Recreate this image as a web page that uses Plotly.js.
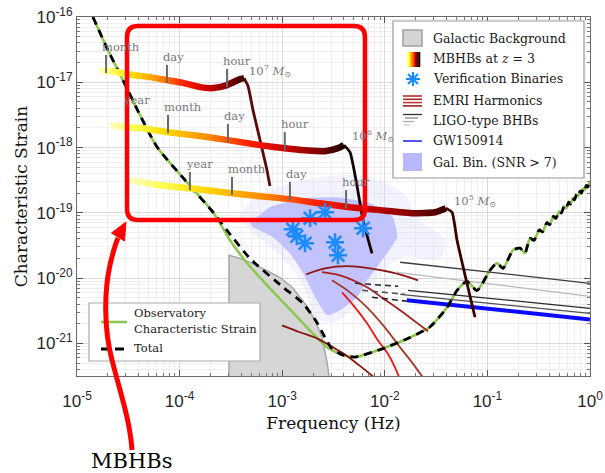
<!DOCTYPE html>
<html><head><meta charset="utf-8">
<script src="https://cdn.plot.ly/plotly-3.0.1.min.js"></script>
<style>body{margin:0;background:#fff}#chart{width:605px;height:473px}</style>
</head><body><div id="chart"></div>
<script>
// ---------------- DATA ----------------
const xTickVals = [1e-5, 1e-4, 1e-3, 1e-2, 1e-1, 1];
const xTickText = ['10<sup>-5</sup>', '10<sup>-4</sup>', '10<sup>-3</sup>', '10<sup>-2</sup>', '10<sup>-1</sup>', '10<sup>0</sup>'];
const yTickVals = [1e-21, 1e-20, 1e-19, 1e-18, 1e-17, 1e-16];
const yTickText = ['10<sup>-21</sup>', '10<sup>-20</sup>', '10<sup>-19</sup>', '10<sup>-18</sup>', '10<sup>-17</sup>', '10<sup>-16</sup>'];

// Observatory characteristic strain
const sensF = [1.43e-5, 2.0e-5, 2.87e-5, 4.11e-5, 6.03e-5, 1.13e-4, 2.12e-4, 3.10e-4, 4.54e-4, 5.68e-4, 1.19e-3, 2.74e-3, 3.92e-3, 5.13e-3, 9.59e-3, 1.76e-2, 2.75e-2, 4.04e-2, 5.06e-2, 6.32e-2, 7.92e-2, 0.106, 0.124, 0.142, 0.178, 0.208, 0.232, 0.26, 0.285, 0.32, 0.345, 0.38, 0.405, 0.44, 0.465, 0.50, 0.525, 0.56, 0.585, 0.62, 0.645, 0.68, 0.705, 0.74, 0.765, 0.80, 0.825, 0.86, 0.885, 0.92, 0.945, 1.0];
const sensH = [1e-16, 3.12e-17, 1e-17, 3.14e-18, 1.02e-18, 3.16e-19, 1.02e-19, 3.80e-20, 1.70e-20, 1.14e-20, 3.31e-21, 8.71e-22, 6.61e-22, 6.17e-22, 8.32e-22, 1.23e-21, 1.78e-21, 3.55e-21, 6.46e-21, 8.91e-21, 6.46e-21, 1.32e-20, 1.70e-20, 1.41e-20, 2.69e-20, 2.88e-20, 2.40e-20, 4.07e-20, 3.80e-20, 5.50e-20, 5.10e-20, 7.08e-20, 6.60e-20, 8.81e-20, 8.20e-20, 1.06e-19, 9.9e-20, 1.26e-19, 1.17e-19, 1.46e-19, 1.36e-19, 1.68e-19, 1.57e-19, 1.91e-19, 1.79e-19, 2.14e-19, 2.0e-19, 2.37e-19, 2.22e-19, 2.63e-19, 2.47e-19, 2.95e-19];

// Total (instrument + galactic confusion): differs from the observatory curve in the mid band
const totalMidF = [2.90e-4, 4.85e-4, 1.02e-3, 1.60e-3, 2.18e-3, 2.61e-3, 3.05e-3];
const totalMidH = [5.37e-20, 2.0e-20, 7.24e-21, 4.07e-21, 2.09e-21, 1.23e-21, 8.32e-22];

// Galactic background (filled region)
const galF = [3.03e-4, 3.03e-4, 3.88e-4, 4.85e-4, 6.79e-4, 9.53e-4, 1.25e-3, 1.49e-3, 1.78e-3, 2.0e-3, 2.23e-3, 2.44e-3, 2.61e-3, 2.74e-3, 2.86e-3];
const galH = [3.16e-22, 2.24e-20, 2.0e-20, 1.74e-20, 1.35e-20, 1.02e-20, 7.24e-21, 5.13e-21, 3.55e-21, 2.51e-21, 1.78e-21, 1.23e-21, 7.76e-22, 5.13e-22, 3.16e-22];

// Galactic binaries with SNR > 7 (region outlines)
const cloudOuterF = [3.71e-4, 5.43e-4, 1.19e-3, 3.42e-3, 8.02e-3, 1.57e-2, 2.20e-2, 3.86e-2, 3.45e-2, 1.41e-2, 8.97e-3, 5.73e-3, 3.27e-3, 2.23e-3, 1.49e-3, 9.53e-4, 5.43e-4];
const cloudOuterH = [8.26e-20, 1.73e-19, 2.84e-19, 3.77e-19, 3.40e-19, 1.86e-19, 7.71e-20, 3.80e-20, 2.01e-20, 2.01e-20, 1.10e-20, 4.57e-21, 2.10e-21, 2.42e-21, 9.25e-21, 2.24e-20, 4.53e-20];
const cloudCoreF = [4.85e-4, 7.60e-4, 1.60e-3, 3.42e-3, 7.18e-3, 1.20e-2, 1.32e-2, 1.05e-2, 8.39e-3, 6.71e-3, 5.36e-3, 3.66e-3, 2.74e-3, 2.18e-3, 1.60e-3, 1.19e-3, 8.13e-4, 5.19e-4];
const cloudCoreH = [6.92e-20, 1.22e-19, 1.67e-19, 1.73e-19, 1.40e-19, 8.57e-20, 4.23e-20, 2.40e-20, 1.47e-20, 9.25e-21, 5.08e-21, 3.21e-21, 2.69e-21, 4.57e-21, 1.19e-20, 2.40e-20, 4.23e-20, 6.01e-20];

// MBHBs at z = 3 : inspiral and merger/ringdown parts
const mbhb7InspF = [1.64e-5, 2.40e-5, 3.52e-5, 5.15e-5, 7.53e-5, 1.10e-4, 1.58e-4, 2.12e-4, 2.90e-4, 3.88e-4, 4.25e-4];
const mbhb7InspH = [1.54e-17, 1.44e-17, 1.29e-17, 1.20e-17, 1.08e-17, 9.72e-18, 8.43e-18, 8.15e-18, 9.06e-18, 1.12e-17, 1.16e-17];
const mbhb7MergF = [4.25e-4, 4.65e-4, 5.19e-4, 6.08e-4, 7.11e-4, 7.60e-4];
const mbhb7MergH = [1.16e-17, 8.71e-18, 3.75e-18, 1.30e-18, 4.50e-19, 2.57e-19];

const mbhb6InspF = [2.10e-5, 2.94e-5, 4.11e-5, 7.71e-5, 1.58e-4, 2.96e-4, 6.08e-4, 1.06e-3, 1.67e-3, 2.61e-3, 3.50e-3, 4.0e-3];
const mbhb6InspH = [2.21e-18, 2.06e-18, 1.99e-18, 1.72e-18, 1.50e-18, 1.30e-18, 1.09e-18, 9.79e-19, 9.12e-19, 8.81e-19, 9.79e-19, 1.09e-18];
const mbhb6MergF = [4.0e-3, 4.58e-3, 5.24e-3, 6.14e-3, 7.50e-3];
const mbhb6MergH = [1.09e-18, 8.49e-19, 3.16e-19, 7.71e-20, 2.40e-20];

const mbhb5InspF = [3.29e-5, 6.44e-5, 1.26e-4, 3.24e-4, 6.08e-4, 1.19e-3, 2.33e-3, 4.58e-3, 8.97e-3, 1.88e-2, 3.08e-2, 3.94e-2];
const mbhb5InspH = [3.16e-19, 2.65e-19, 2.38e-19, 2.0e-19, 1.80e-19, 1.62e-19, 1.40e-19, 1.22e-19, 1.10e-19, 9.86e-20, 1.02e-19, 1.18e-19];
const mbhb5MergF = [3.94e-2, 4.52e-2, 5.06e-2, 6.32e-2, 7.57e-2];
const mbhb5MergH = [1.18e-19, 1.02e-19, 3.80e-20, 8.32e-21, 2.51e-21];

// time-to-merger marks on the tracks (frequency, strain at the track)
const mbhb7TickF = [1.92e-5, 7.53e-5, 2.90e-4];
const mbhb7TickH = [1.38e-17, 9.72e-18, 8.43e-18];
const mbhb7TickLabels = ['month', 'day', 'hour'];
const mbhb6TickF = [3.07e-5, 7.71e-5, 2.96e-4, 1.06e-3];
const mbhb6TickH = [2.14e-18, 1.66e-18, 1.21e-18, 9.12e-19];
const mbhb6TickLabels = ['year', 'month', 'day', 'hour'];
const mbhb5TickF = [1.26e-4, 3.24e-4, 1.19e-3, 4.19e-3];
const mbhb5TickH = [2.22e-19, 1.86e-19, 1.56e-19, 1.17e-19];
const mbhb5TickLabels = ['year', 'month', 'day', 'hour'];

const massLabels = ['10<sup>7</sup> <i>M</i><sub>⊙</sub>', '10<sup>6</sup> <i>M</i><sub>⊙</sub>', '10<sup>5</sup> <i>M</i><sub>⊙</sub>'];
const massLabelF = [4.54e-4, 4.58e-3, 4.52e-2];
const massLabelH = [1.49e-17, 1.50e-18, 1.51e-19];

// Verification binaries
const vbF = [1.87e-3, 2.61e-3, 1.27e-3, 1.39e-3, 1.67e-3, 3.27e-3, 3.50e-3, 6.14e-3];
const vbH = [8.26e-20, 1.02e-19, 5.60e-20, 4.38e-20, 3.42e-20, 3.54e-20, 2.24e-20, 5.81e-20];

// EMRI harmonics
const emri1F = [1.71e-3, 2.61e-3, 4.29e-3, 7.18e-3, 1.26e-2, 2.11e-2];
const emri1H = [1.14e-20, 1.41e-20, 1.52e-20, 1.41e-20, 1.19e-20, 9.25e-21];
const emri2F = [2.44e-3, 3.66e-3, 6.71e-3, 9.59e-3, 1.41e-2, 1.97e-2, 2.64e-2];
const emri2H = [1.23e-20, 1.10e-20, 7.23e-21, 4.90e-21, 3.21e-21, 2.17e-21, 1.53e-21];
const emri3F = [3.05e-3, 4.58e-3, 6.71e-3, 1.0e-2, 1.41e-2, 1.84e-2, 2.31e-2];
const emri3H = [9.25e-21, 6.05e-21, 3.56e-21, 1.76e-21, 8.69e-22, 5.12e-22, 3.12e-22];
const emri4F = [3.83e-3, 5.13e-3, 6.71e-3, 8.59e-3, 1.05e-2, 1.23e-2, 1.37e-2];
const emri4H = [6.05e-21, 3.56e-21, 2.03e-21, 1.11e-21, 7.28e-22, 4.60e-22, 3.12e-22];
const emri5F = [9.95e-4, 1.49e-3, 2.18e-3, 3.13e-3, 3.92e-3, 5.48e-3, 7.67e-3];
const emri5H = [1.89e-21, 1.48e-21, 1.19e-21, 8.69e-22, 7.03e-22, 4.76e-22, 3.12e-22];

// LIGO-type BHBs
const ligo1F = [1.41e-2, 1.0]; const ligo1H = [1.75e-20, 8.32e-21];
const ligo2F = [1.26e-2, 1.0]; const ligo2H = [1.23e-20, 5.26e-21];
const ligo3F = [1.68e-2, 1.0]; const ligo3H = [6.50e-21, 3.44e-21];
const ligo4F = [1.41e-2, 1.0]; const ligo4H = [5.65e-21, 2.88e-21];
const ligoDashAF = [5.13e-3, 1.35e-2]; const ligoDashAH = [8.32e-21, 7.48e-21];
const ligoDashBF = [6.0e-3, 1.57e-2]; const ligoDashBH = [6.50e-21, 5.65e-21];
const ligoDashCF = [7.50e-3, 1.68e-2]; const ligoDashCH = [5.08e-21, 4.41e-21];

// GW150914
const gwF = [1.64e-2, 1.0];
const gwH = [4.57e-21, 2.33e-21];

// ---------------- BUILD ----------------
const SERIF = 'DejaVu Serif';
const SANS = 'Liberation Sans';
const traces = [];
const gradTargets = [];

function line(x, y, color, width, extra) {
  return Object.assign({x: x, y: y, type: 'scatter', mode: 'lines', hoverinfo: 'skip',
    line: {color: color, width: width}, showlegend: false}, extra || {});
}

// cloud of resolved galactic binaries
traces.push(line(cloudOuterF, cloudOuterH, 'rgba(0,0,0,0)', 0, {fill: 'toself', fillcolor: 'rgba(212,212,255,0.28)', line: {width: 0, shape: 'spline'}}));
traces.push(line(cloudCoreF, cloudCoreH, 'rgba(0,0,0,0)', 0, {fill: 'toself', fillcolor: 'rgb(194,194,252)', line: {width: 0, shape: 'spline', smoothing: 0.4}}));
// galactic background
traces.push(line(galF, galH, '#a8a8a8', 1.5, {fill: 'toself', fillcolor: '#d6d6d6'}));
// observatory strain
traces.push(line(sensF, sensH, '#8dc74f', 2.6, {line: {color: '#8dc74f', width: 2.6, shape: 'spline', smoothing: 0.6}}));
// EMRIs
traces.push(line(emri1F, emri1H, '#8e1414', 1.8, {line: {color: '#8e1414', width: 1.8, shape: 'spline'}}));
traces.push(line(emri2F, emri2H, '#a82020', 1.8, {line: {color: '#a82020', width: 1.8, shape: 'spline'}}));
traces.push(line(emri3F, emri3H, '#a33a2a', 1.8, {line: {color: '#a33a2a', width: 1.8, shape: 'spline'}}));
traces.push(line(emri4F, emri4H, '#f01414', 1.8, {line: {color: '#f01414', width: 1.8, shape: 'spline'}}));
traces.push(line(emri5F, emri5H, '#8a1010', 1.8, {line: {color: '#8a1010', width: 1.8, shape: 'spline'}}));
// LIGO-type
traces.push(line(ligo1F, ligo1H, '#3a3a3a', 1.3));
traces.push(line(ligo2F, ligo2H, '#b8b8b8', 1.3));
traces.push(line(ligo3F, ligo3H, '#2a2a2a', 1.3));
traces.push(line(ligo4F, ligo4H, '#505050', 1.3));
traces.push(line(ligoDashAF, ligoDashAH, '#333', 1.6, {line: {color: '#333', width: 1.6, dash: '6px,4px'}}));
traces.push(line(ligoDashBF, ligoDashBH, '#555', 1.6, {line: {color: '#555', width: 1.6, dash: '6px,4px'}}));
traces.push(line(ligoDashCF, ligoDashCH, '#222', 1.6, {line: {color: '#222', width: 1.6, dash: '6px,4px'}}));
// GW150914
traces.push(line(gwF, gwH, '#0a0aff', 4));
// Total (dashed)
const totalF = sensF.slice(0, 7).concat(totalMidF, sensF.slice(12));
const totalH = sensH.slice(0, 7).concat(totalMidH, sensH.slice(12));
traces.push(line(totalF, totalH, '#000', 2.8, {line: {color: '#000', width: 2.8, dash: '8px,6px', shape: 'spline', smoothing: 0.6}}));
// MBHB tracks
const tracks = [
  {iF: mbhb7InspF, iH: mbhb7InspH, mF: mbhb7MergF, mH: mbhb7MergH, end: '#3c0000', merg: '#5a0808', id: 'g7'},
  {iF: mbhb6InspF, iH: mbhb6InspH, mF: mbhb6MergF, mH: mbhb6MergH, end: '#1a0000', merg: '#140000', id: 'g6'},
  {iF: mbhb5InspF, iH: mbhb5InspH, mF: mbhb5MergF, mH: mbhb5MergH, end: '#3a0000', merg: '#3c0000', id: 'g5'}
];
tracks.forEach(t => {
  traces.push(line(t.mF, t.mH, t.merg, 2.8, {line: {color: t.merg, width: 2.8, shape: 'spline', smoothing: 0.5}}));
  gradTargets.push({idx: traces.length, id: t.id, end: t.end});
  traces.push(line(t.iF, t.iH, '#c00', 6.5, {line: {color: '#c00', width: 6.5, shape: 'spline', smoothing: 0.5}}));
});
// time marks on the tracks
const tickSets = [[mbhb7TickF, mbhb7TickH, mbhb7TickLabels], [mbhb6TickF, mbhb6TickH, mbhb6TickLabels], [mbhb5TickF, mbhb5TickH, mbhb5TickLabels]];
const TICKUP = 1.905; // drawn mark length (0.28 decade)
const annotations = [];
tickSets.forEach(s => {
  s[0].forEach((f, i) => {
    traces.push(line([f, f], [s[1][i], s[1][i] * TICKUP], '#6a6a6a', 2));
    annotations.push({x: Math.log10(f), y: Math.log10(s[1][i] * TICKUP), xref: 'x', yref: 'y', text: s[2][i],
      showarrow: false, xanchor: 'left', yanchor: 'bottom', xshift: -6, yshift: -1,
      font: {family: SERIF, size: 11.5, color: '#7a7a7a'}});
  });
});
massLabels.forEach((t, i) => {
  annotations.push({x: Math.log10(massLabelF[i]), y: Math.log10(massLabelH[i]), xref: 'x', yref: 'y', text: t,
    showarrow: false, xanchor: 'left', yanchor: 'middle', font: {family: SERIF, size: 11.5, color: '#7a7a7a'}});
});
// verification binaries
traces.push({x: vbF, y: vbH, type: 'scatter', mode: 'markers', hoverinfo: 'skip', showlegend: false,
  marker: {symbol: 'asterisk-open', size: 15, color: '#1e8cff', line: {width: 2.6, color: '#1e8cff'}}});

// ---------------- decorations in pixel space -> paper ----------------
const PL = 77, PT = 17, PW = 513, PH = 359;
const X = p => ((p - PL) / PW).toFixed(5);
const Y = p => ((PT + PH - p) / PH).toFixed(5);
const shapes = [];
function prect(x0, y0, x1, y1, fill, lc, lw) {
  shapes.push({type: 'rect', xref: 'paper', yref: 'paper', x0: +X(x0), x1: +X(x1), y0: +Y(y1), y1: +Y(y0),
    fillcolor: fill, line: {color: lc || 'rgba(0,0,0,0)', width: lw || 0}, layer: 'above'});
}
function pline(x0, y0, x1, y1, color, w, dash) {
  shapes.push({type: 'line', xref: 'paper', yref: 'paper', x0: +X(x0), x1: +X(x1), y0: +Y(y0), y1: +Y(y1),
    line: {color: color, width: w, dash: dash || 'solid'}, layer: 'above'});
}
function ppath(d, color, w, fill) {
  shapes.push({type: 'path', xref: 'paper', yref: 'paper', path: d, line: {color: color, width: w},
    fillcolor: fill || 'rgba(0,0,0,0)', layer: 'above'});
}
function legText(x, y, t, size) {
  annotations.push({xref: 'paper', yref: 'paper', x: +X(x), y: +Y(y), text: t, showarrow: false,
    xanchor: 'left', yanchor: 'middle', font: {family: SERIF, size: size, color: '#1a1a1a'}});
}
// top-right legend
prect(393, 21, 584, 178, '#ffffff', '#9a9a9a', 1.2);
prect(403, 30, 422, 46, '#d4d4d4', '#a0a0a0', 1.5);
const hotSw = ['#ffffff', '#ffffb0', '#ffff20', '#ffc000', '#ff7000', '#ff1800', '#b00000', '#500000', '#000000'];
hotSw.forEach((c, i) => prect(405 + i * 15 / 9, 52, 405 + (i + 1) * 15 / 9 + 0.3, 67, c));
// legend asterisk
[[0, 7], [7, 0], [5, 5], [5, -5]].forEach(d => pline(413 - d[0], 79 - d[1], 413 + d[0], 79 + d[1], '#1e8cff', 2.2));
['#b03030', '#a52a2a', '#c03a3a', '#9a2020'].forEach((c, i) => pline(403, 96 + i * 3.3, 422, 96 + i * 3.3, c, 1.6));
pline(403, 114.5, 422, 114.5, '#333', 1.3);
pline(405, 118, 418, 118, '#888', 1.3);
pline(403, 121.5, 414, 121.5, '#aaa', 1.3);
pline(404, 125, 410, 125, '#ccc', 1.3);
pline(403, 141, 422, 141, '#1a1aff', 1.5);
prect(403, 153, 422, 171, '#b8b8fa');
legText(431, 38, 'Galactic Background', 12.5);
legText(431, 59, 'MBHBs at <i>z</i> = 3', 12.5);
legText(431, 79, 'Verification Binaries', 12.5);
legText(431, 100, 'EMRI Harmonics', 12.5);
legText(431, 120, 'LIGO-type BHBs', 12.5);
legText(431, 141, 'GW150914', 12.5);
legText(431, 162, 'Gal. Bin. (SNR &gt; 7)', 12.5);
// bottom-left legend
prect(89, 303, 260, 361, '#ffffff', '#aaaaaa', 1.2);
pline(101, 322, 127, 322, '#8dc74f', 2.6);
pline(101, 349, 127, 349, '#000', 2.8, '9px,5px');
legText(132, 313, 'Observatory', 11.5);
legText(132, 329, 'Characteristic Strain', 11.5);
legText(132, 348, 'Total', 11.5);
// red rounded box
(function () {
  const x0 = 127, y0 = 26, x1 = 365, y1 = 220, r = 11;
  const d = `M${X(x0 + r)},${Y(y0)} L${X(x1 - r)},${Y(y0)} Q${X(x1)},${Y(y0)} ${X(x1)},${Y(y0 + r)} L${X(x1)},${Y(y1 - r)} Q${X(x1)},${Y(y1)} ${X(x1 - r)},${Y(y1)} L${X(x0 + r)},${Y(y1)} Q${X(x0)},${Y(y1)} ${X(x0)},${Y(y1 - r)} L${X(x0)},${Y(y0 + r)} Q${X(x0)},${Y(y0)} ${X(x0 + r)},${Y(y0)} Z`;
  ppath(d, '#ff0000', 4.5);
  // arrow
  const a = `M${X(132)},${Y(450)} C${X(130)},${Y(420)} ${X(120)},${Y(392)} ${X(112)},${Y(360)} C${X(104)},${Y(330)} ${X(104)},${Y(292)} ${X(110)},${Y(265)} C${X(113)},${Y(252)} ${X(115)},${Y(245)} ${X(118)},${Y(238)}`;
  ppath(a, '#ff0000', 5);
  const h = `M${X(126)},${Y(222)} L${X(111.5)},${Y(233)} L${X(124.5)},${Y(241)} Z`;
  ppath(h, '#ff0000', 1, '#ff0000');
})();
annotations.push({xref: 'paper', yref: 'paper', x: +X(132), y: +Y(461), text: 'MBHBs', showarrow: false,
  xanchor: 'center', yanchor: 'middle', font: {family: SERIF, size: 21, color: '#000'}});

const axisCommon = {
  type: 'log', tickmode: 'array', ticks: 'inside', ticklen: 6, tickcolor: '#555', tickwidth: 1,
  showline: true, linecolor: '#6a6a6a', linewidth: 1, mirror: 'ticks',
  showgrid: true, gridcolor: '#dadada', gridwidth: 1, zeroline: false,
  tickfont: {family: SANS, size: 17, color: '#262626'},
  minor: {ticks: 'inside', ticklen: 3, tickcolor: '#777', showgrid: true, gridcolor: '#efefef', dtick: 'D1'}
};
const layout = {
  width: 605, height: 473,
  margin: {l: PL, r: 605 - PL - PW, t: PT, b: 473 - PT - PH},
  paper_bgcolor: '#fff', plot_bgcolor: '#fff', showlegend: false,
  xaxis: Object.assign({}, axisCommon, {range: [-5, 0], tickvals: xTickVals, ticktext: xTickText, ticklabelstandoff: 10,
    title: {text: 'Frequency (Hz)', font: {family: SERIF, size: 17, color: '#111'}, standoff: 6}}),
  yaxis: Object.assign({}, axisCommon, {range: [-21.5, -16], tickvals: yTickVals, ticktext: yTickText,
    title: {text: 'Characteristic Strain', font: {family: SERIF, size: 17, color: '#111'}, standoff: 4}}),
  shapes: shapes, annotations: annotations
};

const gd = document.getElementById('chart');
Plotly.newPlot(gd, traces, layout, {staticPlot: true, displayModeBar: false}).then(() => {
  const svg = gd.querySelector('svg.main-svg');
  const NS = 'http://www.w3.org/2000/svg';
  const defs = document.createElementNS(NS, 'defs');
  svg.insertBefore(defs, svg.firstChild);
  const els = gd.querySelectorAll('.subplot.xy .scatterlayer .trace');
  gradTargets.forEach(g => {
    const lg = document.createElementNS(NS, 'linearGradient');
    lg.setAttribute('id', g.id);
    lg.setAttribute('x1', '0'); lg.setAttribute('x2', '1'); lg.setAttribute('y1', '0'); lg.setAttribute('y2', '0');
    [[0, '#ffffa8', 0.7], [0.1, '#ffff50', 1], [0.25, '#ffd400', 1], [0.42, '#ff8a00', 1], [0.58, '#ff2400', 1],
     [0.74, '#cc0000', 1], [0.88, '#8a0000', 1], [1, g.end, 1]].forEach(s => {
      const st = document.createElementNS(NS, 'stop');
      st.setAttribute('offset', s[0]); st.setAttribute('stop-color', s[1]); st.setAttribute('stop-opacity', s[2]);
      lg.appendChild(st);
    });
    defs.appendChild(lg);
    const el = els[g.idx];
    if (el) {
      const p = el.querySelector('path.js-line');
      if (p) p.style.stroke = 'url(#' + g.id + ')';
    }
  });
});
</script>
</body></html>
